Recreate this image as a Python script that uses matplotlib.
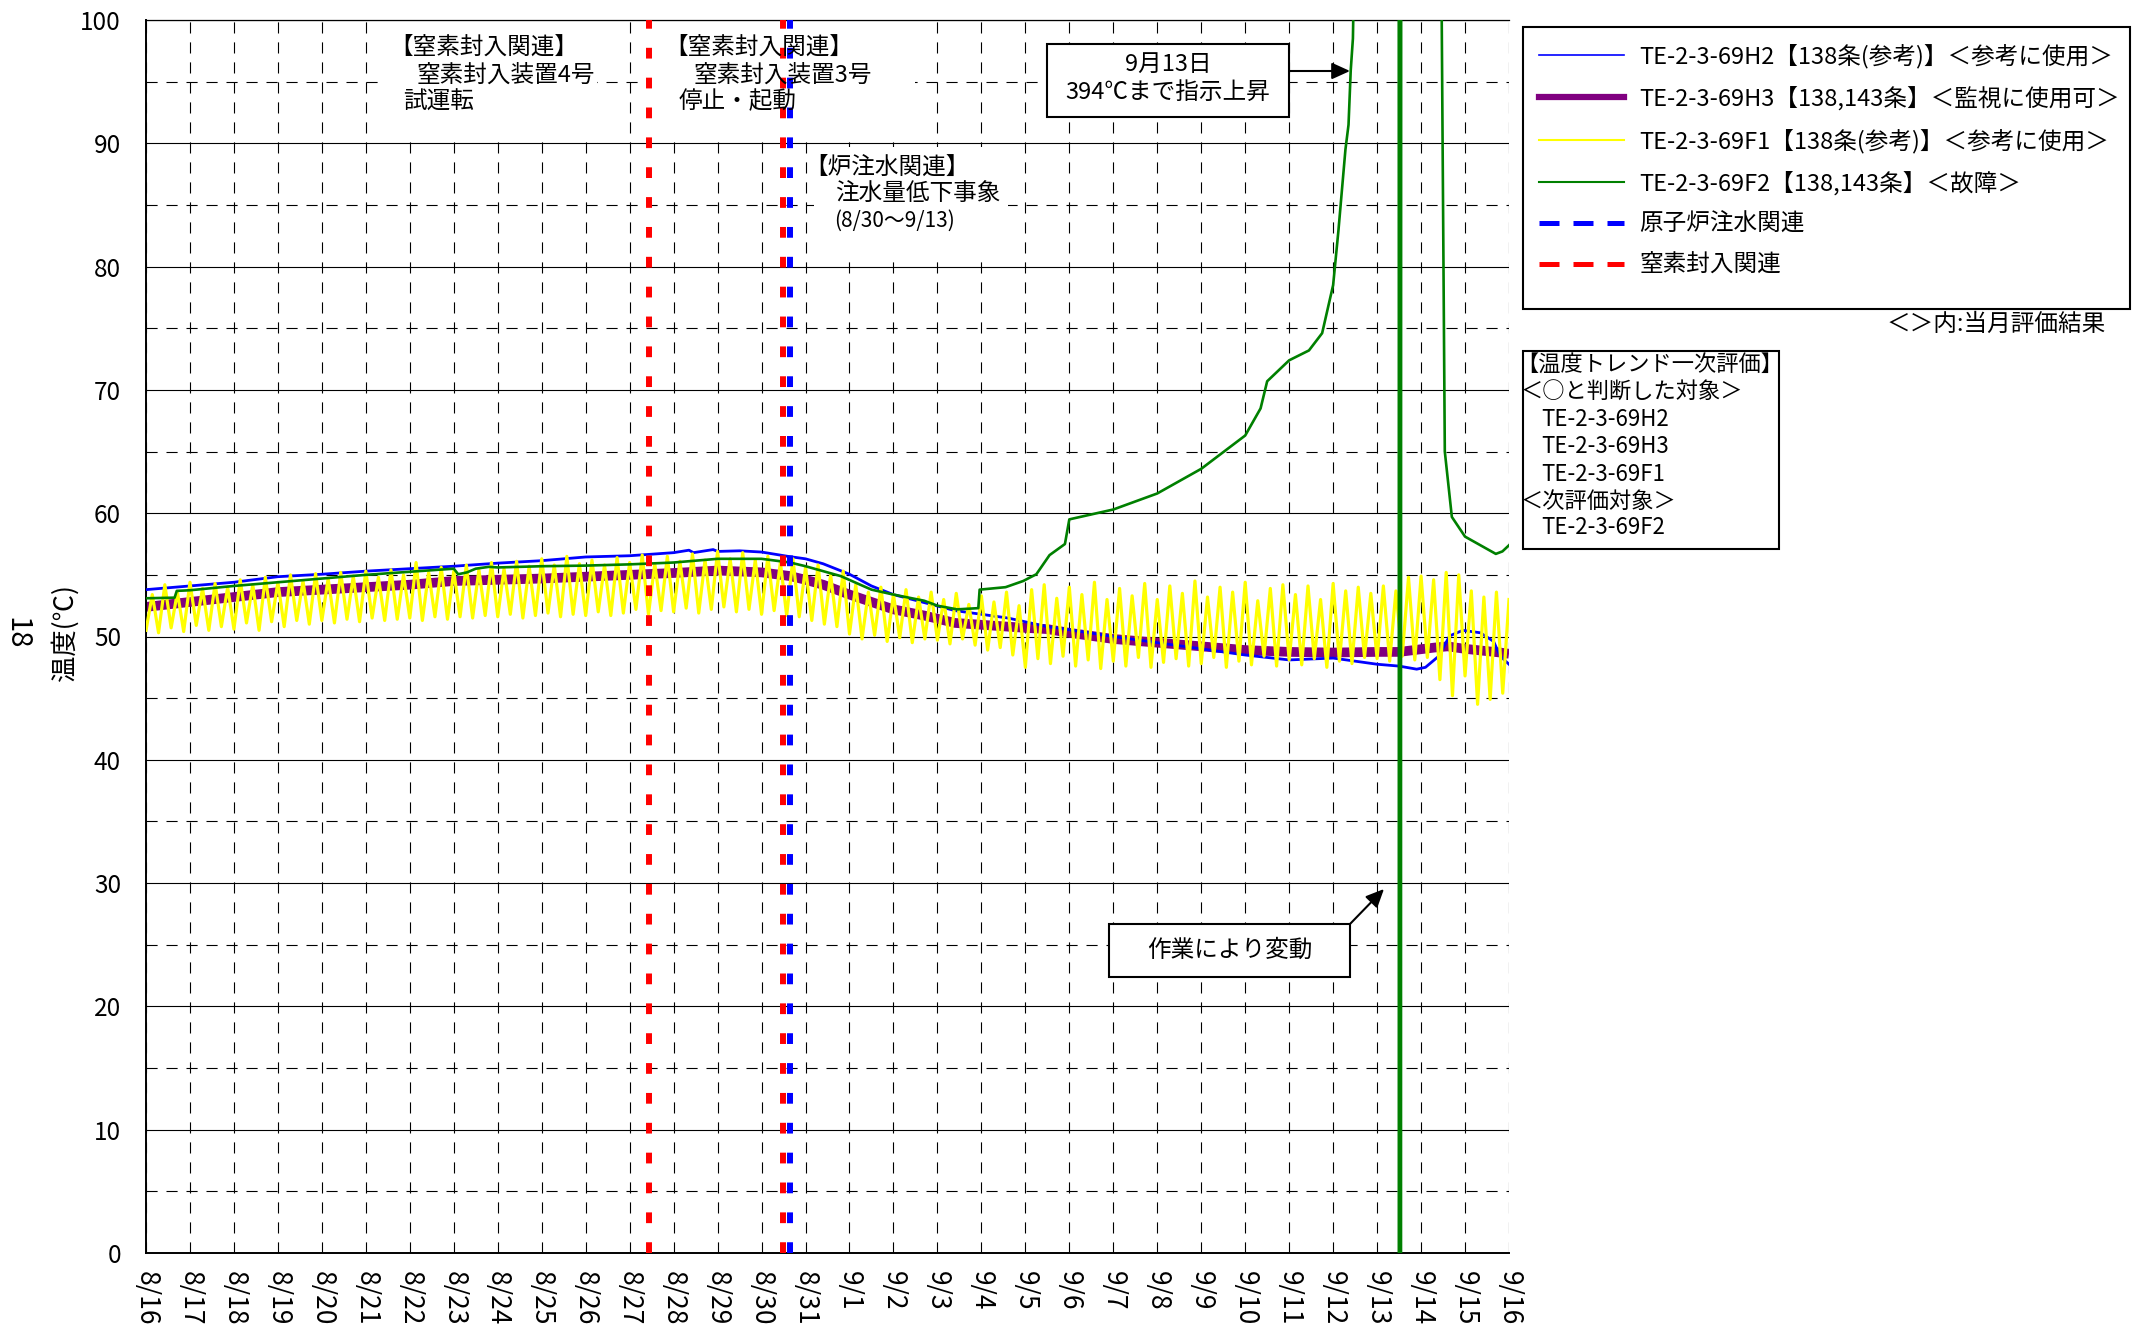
import numpy as np
import matplotlib
matplotlib.use('Agg')
import matplotlib.pyplot as plt
from matplotlib.lines import Line2D
from matplotlib.patches import Rectangle, FancyArrowPatch

plt.rcParams['font.family'] = ['Noto Sans CJK JP', 'DejaVu Sans']

# ---------------- data ----------------
x_labels = ['8/16', '8/17', '8/18', '8/19', '8/20', '8/21', '8/22', '8/23', '8/24',
            '8/25', '8/26', '8/27', '8/28', '8/29', '8/30', '8/31', '9/1', '9/2',
            '9/3', '9/4', '9/5', '9/6', '9/7', '9/8', '9/9', '9/10', '9/11', '9/12',
            '9/13', '9/14', '9/15', '9/16']
y_ticks = [0, 10, 20, 30, 40, 50, 60, 70, 80, 90, 100]

# TE-2-3-69H2 (blue)  -- days since 8/16 0:00
H2_days = [0, 1, 2, 3, 4, 5, 6, 7, 8, 9, 10, 11, 11.6, 12, 12.35, 12.45, 12.9, 13, 13.5,
           14, 14.6, 15, 15.4, 16, 16.5, 17, 17.7, 18.4, 19, 19.6, 20.5, 21, 22, 23,
           24, 25, 26, 27, 28, 28.5, 28.9, 29.1, 29.4, 29.65, 29.95, 30.35, 30.65,
           30.8, 31]
H2_vals = [53.8, 54.1, 54.4, 54.85, 55.05, 55.3, 55.5, 55.7, 55.95, 56.15, 56.45, 56.55,
           56.7, 56.8, 57.0, 56.8, 57.05, 56.9, 56.95, 56.85, 56.5, 56.3, 55.9, 55.05,
           54.1, 53.4, 52.75, 52.1, 51.8, 51.5, 50.8, 50.55, 50.0, 49.5, 49.0, 48.5,
           48.1, 48.25, 47.75, 47.6, 47.35, 47.5, 48.4, 50.05, 50.5, 50.3, 49.6, 48.4,
           47.75]

# TE-2-3-69H3 (purple)
H3_days = [0, 1, 2, 3, 4, 5, 6, 7, 8, 9, 10, 11, 12, 13, 14, 14.65, 15, 15.4, 16, 16.5,
           17, 17.7, 18.4, 19.2, 20, 20.5, 21, 22, 23, 24, 25, 26, 27, 28, 28.5, 29.3,
           29.6, 30, 30.8, 31]
H3_vals = [52.4, 52.8, 53.2, 53.6, 53.8, 54.0, 54.2, 54.5, 54.6, 54.7, 54.85, 55.0,
           55.15, 55.35, 55.2, 54.9, 54.6, 54.2, 53.4, 52.8, 52.2, 51.7, 51.1, 50.9,
           50.7, 50.6, 50.3, 49.8, 49.5, 49.2, 48.9, 48.75, 48.7, 48.75, 48.75, 49.1,
           49.2, 49.0, 48.7, 48.6]

# TE-2-3-69F1 (yellow): alternating troughs / peaks, 7 readings per day
F1_per_day = 7
F1_troughs = [50.5, 50.3, 50.7, 50.4, 50.9, 50.5, 50.8,
              50.6, 51.1, 50.5, 51.2, 50.8, 51.3, 51.0,
              51.3, 51.1, 51.4, 51.2, 51.5, 51.3, 51.4,
              51.5, 51.3, 51.6, 51.4, 51.6, 51.5, 51.7,
              51.6, 51.8, 51.5, 51.7, 51.9, 51.6, 51.8,
              51.7, 52.0, 51.7, 51.9, 52.2, 51.8, 52.1,
              52.0, 52.3, 51.9, 52.2, 52.4, 52.0, 52.2,
              51.8, 52.1, 51.7, 51.6, 51.3, 51.0, 50.8,
              50.2, 49.8, 50.1, 49.6, 49.9, 49.5, 49.8,
              49.7, 49.4, 49.8, 49.3, 48.9, 49.1, 48.5,
              47.5, 48.2, 47.8, 48.4, 47.6, 48.1, 47.4,
              48.0, 47.6, 48.3, 47.5, 47.9, 48.2, 47.6,
              47.8, 48.3, 47.5, 48.0, 47.7, 48.4, 47.6,
              48.1, 47.7, 48.2, 47.5, 48.0, 47.8, 48.3,
              48.2, 48.0, 48.4, 48.1, 48.3, 46.5, 45.2,
              46.8, 44.5, 44.9, 45.4]
F1_peaks = [53.4, 54.2, 53.6, 54.4, 53.9, 54.3, 54.0,
            54.6, 54.2, 54.8, 54.4, 55.0, 54.5, 55.1,
            54.7, 55.2, 54.9, 55.3, 54.8, 55.4, 55.0,
            56.0, 55.2, 55.6, 55.3, 55.8, 55.4, 56.0,
            55.5, 56.1, 55.7, 56.3, 55.8, 56.5, 55.9,
            56.2, 55.8, 56.4, 56.0, 56.6, 55.9, 56.5,
            56.1, 56.7, 56.2, 56.9, 56.3, 56.8, 56.2,
            56.5, 56.0, 56.3, 55.6, 55.8, 55.0, 55.3,
            54.2, 53.6, 54.0, 53.4, 53.8, 53.2, 53.6,
            53.0, 53.5, 52.6, 53.3, 52.8, 53.6, 52.5,
            53.8, 54.2, 53.1, 54.0, 53.4, 54.4, 53.0,
            53.9, 53.3, 54.3, 53.0, 54.1, 53.5, 54.5,
            53.2, 54.0, 53.6, 54.4, 52.9, 53.9, 54.2,
            53.4, 54.1, 53.0, 54.3, 53.7, 54.0, 53.5,
            54.1, 53.7, 54.8, 54.9, 54.6, 55.2, 55.0,
            53.7, 53.2, 53.6, 53.0]

# TE-2-3-69F2 (green)
F2_days = [0, 0.65, 0.7, 1, 2, 3, 4, 5, 6, 7, 7.1, 7.3, 7.5, 7.8, 8, 9, 10, 11, 12, 13,
           14, 14.65, 15, 15.8, 16.5, 17, 17.7, 18, 18.45, 18.93, 18.96, 19.55, 19.95,
           20.25, 20.55, 20.9, 21.0, 21.5, 22, 23, 24, 25, 25.35, 25.5, 26, 26.45,
           26.75, 27, 27.12, 27.28, 27.35, 27.4, 27.45, 27.6, 28.0, 28.3, 28.48, 28.5,
           28.52, 28.54, 28.56, 28.8, 29.2, 29.44, 29.47, 29.54, 29.7, 30.0, 30.4,
           30.7, 30.85, 31.0]
F2_vals = [53.1, 53.15, 53.7, 53.75, 54.1, 54.4, 54.7, 55.0, 55.25, 55.5, 55.05, 55.2,
           55.5, 55.65, 55.6, 55.7, 55.75, 55.85, 56.0, 56.3, 56.3, 56.0, 55.7, 54.9,
           53.8, 53.4, 52.9, 52.5, 52.2, 52.3, 53.8, 54.0, 54.5, 55.05, 56.6, 57.5,
           59.5, 59.9, 60.3, 61.6, 63.6, 66.3, 68.5, 70.7, 72.4, 73.2, 74.6, 78.5,
           82.9, 89.5, 91.5, 95.9, 98.5, 130, 394, 350, 300, -10, 300, -10, 300, 280,
           250, 200, 100, 65, 59.7, 58.1, 57.3, 56.7, 56.9, 57.4]

# event markers (days since 8/16)
n2_events = [11.44, 14.49]       # 窒素封入関連
water_events = [14.64]           # 原子炉注水関連

legend_labels = ['TE-2-3-69H2【138条(参考)】＜参考に使用＞',
                 'TE-2-3-69H3【138,143条】＜監視に使用可＞',
                 'TE-2-3-69F1【138条(参考)】＜参考に使用＞',
                 'TE-2-3-69F2【138,143条】＜故障＞',
                 '原子炉注水関連',
                 '窒素封入関連']
eval_lines = ['【温度トレンド一次評価】', '＜○と判断した対象＞', 'TE-2-3-69H2',
              'TE-2-3-69H3', 'TE-2-3-69F1', '＜次評価対象＞', 'TE-2-3-69F2']

# ---------------- figure ----------------
W, H = 2134, 1343
fig = plt.figure(figsize=(W / 100, H / 100), dpi=100)


def fx(px):
    return px / W


def fy(py):
    return 1 - py / H


ax = fig.add_axes([fx(146), 1 - 1253 / H, (1509 - 146) / W, (1253 - 20) / H])
ax.set_xlim(0, 31)
ax.set_ylim(0, 100)
ax.set_xticks(range(len(x_labels)))
ax.set_xticklabels(x_labels, rotation=270, fontsize=19)
ax.set_yticks(y_ticks)
ax.set_yticklabels([str(v) for v in y_ticks], fontsize=17.5)
ax.set_yticks(range(5, 100, 10), minor=True)
ax.set_axisbelow(True)
ax.grid(axis='x', which='major', color='black', lw=0.8, linestyle=(0, (10, 8)))
ax.grid(axis='y', which='major', color='black', lw=0.8, linestyle='-')
ax.grid(axis='y', which='minor', color='black', lw=0.8, linestyle=(0, (10, 8)))
ax.tick_params(axis='both', which='both', length=0)
ax.tick_params(axis='y', pad=18)
ax.tick_params(axis='x', pad=13)
ax.spines['right'].set_visible(False)
for s in ['left', 'bottom']:
    ax.spines[s].set_linewidth(1.4)
ax.spines['top'].set_linewidth(0.9)

# white label backgrounds hiding the grid
for (x0, x1, y0, y1) in [(5.45, 10.25, 90.15, 99.85), (11.35, 17.49, 90.15, 99.85),
                         (15.2, 19.6, 80.8, 89.7)]:
    ax.add_patch(Rectangle((x0, y0), x1 - x0, y1 - y0, facecolor='white',
                           edgecolor='none', zorder=1))

# series
F1_vals = [v for pair in zip(F1_troughs, F1_peaks) for v in pair]
F1_days = np.arange(len(F1_vals)) / F1_per_day

ax.plot(H2_days, H2_vals, color='#0000ff', lw=2.0, zorder=3)
ax.plot(H3_days, H3_vals, color='#800080', lw=7, zorder=2.5, solid_capstyle='butt')
ax.plot(F1_days, F1_vals, color='#ffff00', lw=2.3, zorder=3.1)
ax.plot(F2_days, F2_vals, color='#008000', lw=1.9, zorder=3.2)

for d in n2_events:
    ax.axvline(d, color='#ff0000', lw=4.3, linestyle=(0, (1.8, 3.2)), zorder=4)
for d in water_events:
    ax.axvline(d, color='#0000ff', lw=4.3, linestyle=(0, (1.8, 3.2)), zorder=4)

# annotation texts in the plot
TXT = 17
fig.text(fx(389), fy(47.6), '【窒素封入関連】', fontsize=TXT, va='center')
fig.text(fx(417), fy(74.9), '窒素封入装置4号', fontsize=TXT, va='center')
fig.text(fx(403), fy(102), '試運転', fontsize=TXT, va='center')
fig.text(fx(664), fy(47.6), '【窒素封入関連】', fontsize=TXT, va='center')
fig.text(fx(694), fy(74.9), '窒素封入装置3号', fontsize=TXT, va='center')
fig.text(fx(679), fy(102), '停止・起動', fontsize=TXT, va='center')
fig.text(fx(804), fy(167.4), '【炉注水関連】', fontsize=TXT, va='center')
fig.text(fx(835), fy(194.6), '注水量低下事象', fontsize=TXT, va='center')
fig.text(fx(834), fy(220.5), '(8/30～9/13)', fontsize=15, va='center')

# boxed callouts
fig.add_artist(Rectangle((fx(1047), fy(117)), (1289 - 1047) / W, (117 - 43.6) / H,
                         transform=fig.transFigure, facecolor='white', edgecolor='black',
                         lw=1.5, zorder=5))
fig.text(fx(1168), fy(64), '9月13日', fontsize=TXT, ha='center', va='center', zorder=6)
fig.text(fx(1168), fy(92.5), '394℃まで指示上昇', fontsize=TXT, ha='center', va='center', zorder=6)
fig.add_artist(FancyArrowPatch((fx(1289), fy(71)), (fx(1350), fy(71)),
                               transform=fig.transFigure,
                               arrowstyle='-|>,head_length=0.55,head_width=0.25',
                               mutation_scale=20, color='black', lw=1.5,
                               shrinkA=0, shrinkB=0, zorder=6))

fig.add_artist(Rectangle((fx(1109), fy(977)), (1350 - 1109) / W, (977 - 924) / H,
                         transform=fig.transFigure, facecolor='white', edgecolor='black',
                         lw=1.5, zorder=5))
fig.text(fx(1229.5), fy(950.5), '作業により変動', fontsize=TXT, ha='center', va='center', zorder=6)
fig.add_artist(FancyArrowPatch((fx(1350), fy(924)), (fx(1384), fy(889)),
                               transform=fig.transFigure,
                               arrowstyle='-|>,head_length=0.55,head_width=0.25',
                               mutation_scale=20, color='black', lw=1.5,
                               shrinkA=0, shrinkB=0, zorder=6))

# legend
handles = [Line2D([], [], color='#0000ff', lw=1.2),
           Line2D([], [], color='#800080', lw=4.5),
           Line2D([], [], color='#ffff00', lw=1.5),
           Line2D([], [], color='#008000', lw=1.5),
           Line2D([], [], color='#0000ff', lw=3.6, linestyle=(0, (4, 2.8))),
           Line2D([], [], color='#ff0000', lw=3.6, linestyle=(0, (4, 2.8)))]
fig.legend(handles, legend_labels, loc='upper left', bbox_to_anchor=(fx(1539), fy(43.5)),
           frameon=False, fontsize=17, handlelength=3.6, handletextpad=0.64,
           labelspacing=0.76, borderpad=0, borderaxespad=0)
fig.add_artist(Rectangle((fx(1523), fy(309)), (2130 - 1523) / W, (309 - 27) / H,
                         transform=fig.transFigure, fill=False, edgecolor='black', lw=1.5))
fig.text(fx(2106), fy(324), '＜＞内:当月評価結果', fontsize=17, ha='right', va='center')

# evaluation box
fig.add_artist(Rectangle((fx(1523), fy(549)), (1779 - 1523) / W, (549 - 351) / H,
                         transform=fig.transFigure, fill=False, edgecolor='black', lw=1.5))
eval_x = [1516, 1521, 1541, 1541, 1541, 1521, 1541]
eval_y = [365, 392, 419, 446, 474, 501, 528]
for s, xx, yy in zip(eval_lines, eval_x, eval_y):
    fig.text(fx(xx), fy(yy), s, fontsize=16, va='center')

# axis titles
fig.text(fx(65), fy(633), '温度(℃)', rotation=90, fontsize=19, ha='center', va='center')
fig.text(fx(16), fy(633), '18', rotation=270, fontsize=21, ha='center', va='center')

fig.savefig('out.png', dpi=100)
